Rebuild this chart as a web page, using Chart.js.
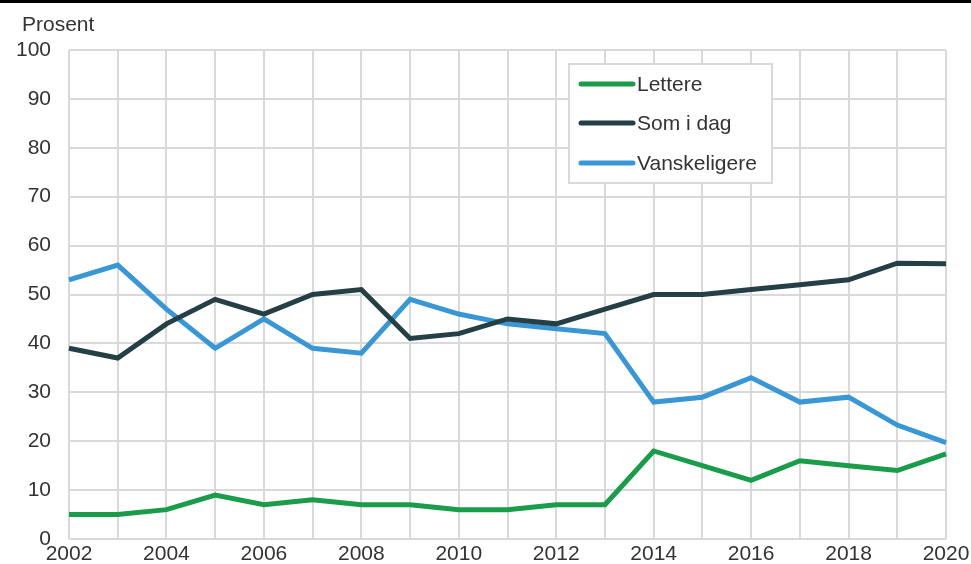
<!DOCTYPE html>
<html>
<head>
<meta charset="utf-8">
<script src="https://cdn.jsdelivr.net/npm/chart.js@4"></script>
<style>
    html, body { margin: 0; padding: 0; background: #fff; }
    #wrap { width: 971px; height: 564px; position: relative; }
</style>
</head>
<body>
<div id="wrap"><canvas id="chart"></canvas></div>
<script>
// years on x axis
var years = ['2002', '2003', '2004', '2005', '2006', '2007', '2008', '2009', '2010', '2011',
    '2012', '2013', '2014', '2015', '2016', '2017', '2018', '2019', '2020'];

// series values (prosent)
var lettere = [5, 5, 6, 9, 7, 8, 7, 7, 6, 6, 7, 7, 18, 15, 12, 16, 15, 14, 17.4];
var somIDag = [39, 37, 44, 49, 46, 50, 51, 41, 42, 45, 44, 47, 50, 50, 51, 52, 53, 56.4, 56.3];
var vanskeligere = [53, 56, 47, 39, 45, 39, 38, 49, 46, 44, 43, 42, 28, 29, 33, 28, 29, 23.3, 19.7];

var seriesNames = ['Lettere', 'Som i dag', 'Vanskeligere'];
var seriesColors = ['#1a9c4a', '#243f45', '#3a97d5'];

var textColor = '#333333';
var gridColor = '#d9d9d9';
var fontFamily = "'Liberation Sans', Arial, sans-serif";
var fontSize = 21;

// tittel, topplinje og legend-boks
var decorPlugin = {
    id: 'decor',
    afterDraw: function (chart) {
        var ctx = chart.ctx;
        ctx.save();
        ctx.fillStyle = '#000';
        ctx.fillRect(0, 0, chart.width, 3);

        ctx.fillStyle = textColor;
        ctx.font = fontSize + 'px ' + fontFamily;
        ctx.textBaseline = 'middle';
        ctx.textAlign = 'left';
        ctx.fillText('Prosent', 22, 25);

        // legend
        var bx = 569, by = 64, bw = 203, bh = 119;
        ctx.fillStyle = '#fff';
        ctx.fillRect(bx, by, bw, bh);
        ctx.strokeStyle = gridColor;
        ctx.lineWidth = 2;
        ctx.strokeRect(bx, by, bw, bh);

        var rows = [84, 123, 163];
        chart.data.datasets.forEach(function (ds, i) {
            ctx.strokeStyle = ds.borderColor;
            ctx.lineWidth = 5;
            ctx.lineCap = 'round';
            ctx.beginPath();
            ctx.moveTo(581, rows[i]);
            ctx.lineTo(633, rows[i]);
            ctx.stroke();
            ctx.fillStyle = textColor;
            ctx.fillText(ds.label, 637, rows[i] + 1);
        });
        ctx.restore();
    }
};

var chartArea = document.getElementById('chart').getContext('2d');

var chart = new Chart(chartArea, {
    type: 'line',
    data: {
        labels: years,
        datasets: [lettere, somIDag, vanskeligere].map(function (vals, i) {
            return {
                label: seriesNames[i],
                data: vals,
                borderColor: seriesColors[i],
                backgroundColor: seriesColors[i],
                borderWidth: 5,
                pointRadius: 0,
                tension: 0,
                borderJoinStyle: 'miter'
            };
        })
    },
    options: {
        responsive: true,
        maintainAspectRatio: false,
        animation: false,
        layout: {
            padding: { top: 50, right: 25, left: 0, bottom: 0 }
        },
        plugins: {
            legend: { display: false },
            tooltip: { enabled: false }
        },
        scales: {
            x: {
                offset: false,
                grid: { color: gridColor, lineWidth: 2, drawTicks: false },
                border: { display: false },
                ticks: {
                    autoSkip: false,
                    maxRotation: 0,
                    padding: 3,
                    color: textColor,
                    font: { family: fontFamily, size: fontSize },
                    callback: function (val, idx) {
                        return idx % 2 == 0 ? this.getLabelForValue(val) : '';
                    }
                },
                afterFit: function (scale) {
                    scale.height = 25;
                    scale.paddingLeft = 0;
                    scale.paddingRight = 0;
                }
            },
            y: {
                min: 0,
                max: 100,
                grid: { color: gridColor, lineWidth: 2, drawTicks: false },
                border: { display: false },
                ticks: {
                    stepSize: 10,
                    padding: 18,
                    color: textColor,
                    font: { family: fontFamily, size: fontSize }
                },
                afterFit: function (scale) {
                    scale.width = 69;
                    scale.paddingTop = 0;
                    scale.paddingBottom = 0;
                }
            }
        }
    },
    plugins: [decorPlugin]
});
</script>
</body>
</html>
